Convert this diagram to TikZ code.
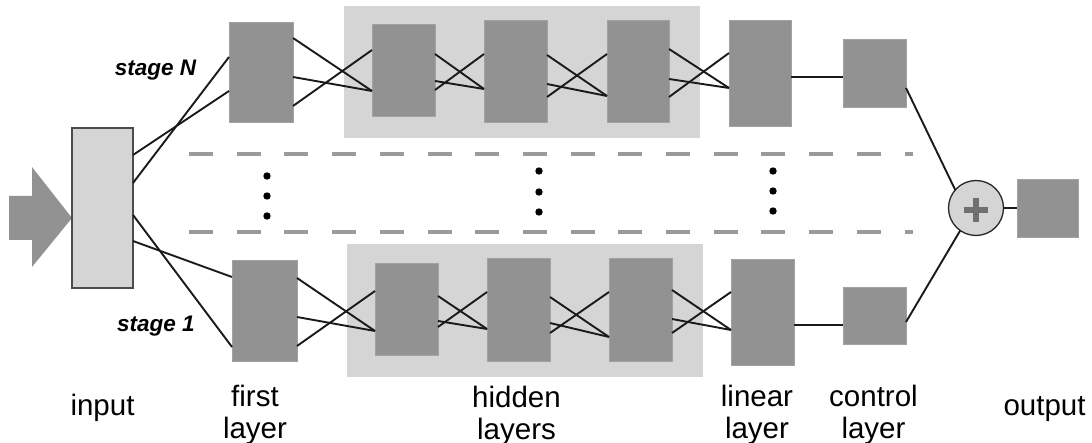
\documentclass[tikz,border=0pt]{standalone}
\usepackage{fontspec}
\setmainfont{Liberation Sans}
\definecolor{darkbox}{HTML}{929292}
\definecolor{darkedge}{HTML}{A2A2A2}
\definecolor{lightbox}{HTML}{D5D5D5}
\definecolor{dashgray}{HTML}{9A9A9A}
\definecolor{wire}{HTML}{1A1A1A}
\definecolor{plusgray}{HTML}{707070}
\begin{document}
\begin{tikzpicture}[x=1pt,y=-1pt,
  dbox/.style={draw=darkedge,line width=0.8pt,fill=darkbox,inner sep=0pt,outer sep=0pt},
  lbox/.style={fill=lightbox,inner sep=0pt,outer sep=0pt},
  ibox/.style={draw=black!70,line width=1.2pt,fill=lightbox,inner sep=0pt,outer sep=0pt},
  wireline/.style={draw=wire,line width=1.9pt},
  sepline/.style={draw=dashgray,line width=4pt,dash pattern=on 24pt off 23.7pt},
  lbl/.style={font=\fontsize{29.5}{32}\selectfont,anchor=base,align=center,inner sep=0pt},
  stagelbl/.style={font=\fontsize{22.5}{27}\selectfont\bfseries\itshape,anchor=base,inner sep=0pt}
]
\useasboundingbox (0,0) rectangle (1092,443);

% input arrow
\fill[darkbox] (9,196) -- (32,196) -- (32,167) -- (72,218) -- (32,267) -- (32,240) -- (9,240) -- cycle;

% hidden-layer backgrounds
\node[lbox,minimum width=356pt,minimum height=132pt] (hN) at (522,72) {};
\node[lbox,minimum width=356pt,minimum height=133pt] (h1) at (525,310.5) {};

% dashed separators
\draw[sepline] (189,154) -- (913,154);
\draw[sepline] (189,232) -- (913,232);

% dots
\foreach \xx/\ya/\yb/\yc in {267/176/196/216, 539/171/192/212, 773/171/191/211}{
  \fill (\xx,\ya) circle (3.7);
  \fill (\xx,\yb) circle (3.7);
  \fill (\xx,\yc) circle (3.7);
}

% input
\node[ibox,minimum width=61pt,minimum height=160pt] (inp) at (102.5,208) {};

% stage N boxes
\node[dbox,minimum width=64pt,minimum height=100pt] (fN) at (261,72) {};
\node[dbox,minimum width=63pt,minimum height=92pt] (aN) at (403.5,70) {};
\node[dbox,minimum width=63pt,minimum height=102pt] (bN) at (515.5,71) {};
\node[dbox,minimum width=62pt,minimum height=102pt] (cN) at (638,71) {};
\node[dbox,minimum width=62pt,minimum height=106pt] (lN) at (760,73) {};
\node[dbox,minimum width=63pt,minimum height=68pt] (kN) at (874.5,73) {};

% stage 1 boxes
\node[dbox,minimum width=65pt,minimum height=101pt] (f1) at (264.5,310.5) {};
\node[dbox,minimum width=63pt,minimum height=92pt] (a1) at (406.5,309) {};
\node[dbox,minimum width=63pt,minimum height=103pt] (b1) at (518.5,309.5) {};
\node[dbox,minimum width=63pt,minimum height=103pt] (c1) at (640.5,309.5) {};
\node[dbox,minimum width=63pt,minimum height=106pt] (l1) at (762.5,312) {};
\node[dbox,minimum width=63pt,minimum height=57pt] (k1) at (874.5,315.5) {};

% sum and output
\node[circle,draw=black!85,line width=1.3pt,fill=lightbox,minimum size=55pt,inner sep=0pt,outer sep=0pt] (plus) at (976,208) {};
\draw[plusgray,line width=5.5pt] ([xshift=-12pt,yshift=-2pt]plus.center) -- ([xshift=12pt,yshift=-2pt]plus.center);
\draw[plusgray,line width=5.5pt] ([yshift=10pt]plus.center) -- ([yshift=-14pt]plus.center);
\node[dbox,minimum width=61pt,minimum height=58pt] (out) at (1047.5,208) {};

% input -> first layers
\draw[wireline] ([yshift=53pt]inp.east) -- ([yshift=-19pt]fN.west);
\draw[wireline] ([yshift=25pt]inp.east) -- ([yshift=15pt]fN.west);
\draw[wireline] ([yshift=-7pt]inp.east) -- ([yshift=-36.5pt]f1.west);
\draw[wireline] ([yshift=-33pt]inp.east) -- ([yshift=33.5pt]f1.west);

% stage N wiring
\draw[wireline] ([yshift=34pt]fN.east) -- ([yshift=-21pt]aN.west);
\draw[wireline] ([yshift=-5pt]fN.east) -- ([yshift=-21pt]aN.west);
\draw[wireline] ([yshift=-34pt]fN.east) -- ([yshift=20pt]aN.west);
\draw[wireline] ([yshift=16pt]aN.east) -- ([yshift=-18pt]bN.west);
\draw[wireline] ([yshift=-11pt]aN.east) -- ([yshift=-18pt]bN.west);
\draw[wireline] ([yshift=-20pt]aN.east) -- ([yshift=17pt]bN.west);
\draw[wireline] ([yshift=16pt]bN.east) -- ([yshift=-25pt]cN.west);
\draw[wireline] ([yshift=-13pt]bN.east) -- ([yshift=-25pt]cN.west);
\draw[wireline] ([yshift=-26pt]bN.east) -- ([yshift=17pt]cN.west);
\draw[wireline] ([yshift=22pt]cN.east) -- ([yshift=-15pt]lN.west);
\draw[wireline] ([yshift=-8pt]cN.east) -- ([yshift=-15pt]lN.west);
\draw[wireline] ([yshift=-26pt]cN.east) -- ([yshift=20pt]lN.west);
\draw[wireline] ([yshift=-4pt]lN.east) -- ([yshift=-4pt]kN.west);
\draw[wireline] ([yshift=-15pt]kN.east) -- (plus.139);

% stage 1 wiring
\draw[wireline] ([yshift=32.5pt]f1.east) -- ([yshift=-22pt]a1.west);
\draw[wireline] ([yshift=-6.5pt]f1.east) -- ([yshift=-22pt]a1.west);
\draw[wireline] ([yshift=-35.5pt]f1.east) -- ([yshift=18pt]a1.west);
\draw[wireline] ([yshift=13pt]a1.east) -- ([yshift=-19.5pt]b1.west);
\draw[wireline] ([yshift=-12pt]a1.east) -- ([yshift=-19.5pt]b1.west);
\draw[wireline] ([yshift=-18pt]a1.east) -- ([yshift=17.5pt]b1.west);
\draw[wireline] ([yshift=12.5pt]b1.east) -- ([yshift=-27.5pt]c1.west);
\draw[wireline] ([yshift=-13.5pt]b1.east) -- ([yshift=-27.5pt]c1.west);
\draw[wireline] ([yshift=-23.5pt]b1.east) -- ([yshift=17.5pt]c1.west);
\draw[wireline] ([yshift=19.5pt]c1.east) -- ([yshift=-18pt]l1.west);
\draw[wireline] ([yshift=-9.5pt]c1.east) -- ([yshift=-18pt]l1.west);
\draw[wireline] ([yshift=-23.5pt]c1.east) -- ([yshift=20pt]l1.west);
\draw[wireline] ([yshift=-13pt]l1.east) -- ([yshift=-9.5pt]k1.west);
\draw[wireline] ([yshift=-6.5pt]k1.east) -- (plus.235);

\draw[wireline] (plus.east) -- (out.west);

% stage labels
\node[stagelbl] (sN) at (155.5,76) {stage N};
\node[stagelbl] (s1) at (156,332) {stage 1};

% bottom labels (base anchor = last line baseline)
\node[lbl] (tin) at (102.5,415) {input};
\node[lbl] (tfirst) at (255,438) {first\\layer};
\node[lbl] (thid) at (516.5,439) {hidden\\layers};
\node[lbl] (tlin) at (757,438) {linear\\layer};
\node[lbl] (tctl) at (873.5,438) {control\\layer};
\node[lbl] (tout) at (1044.5,415) {output};
\end{tikzpicture}
\end{document}
